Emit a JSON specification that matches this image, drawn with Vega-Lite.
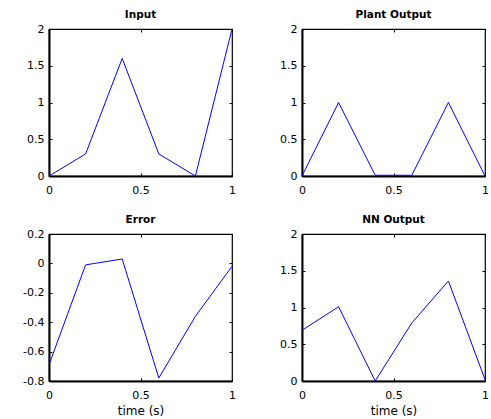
{
  "$schema": "https://vega.github.io/schema/vega-lite/v6.json",
  "autosize": {"type": "pad"},
  "padding": {"left": 21, "top": 8, "right": 5, "bottom": 2},
  "background": "white",
  "datasets": {
    "sim": [
      {"t": 0.0, "input": 0.0, "plant": 0.0, "error": -0.69, "nn": 0.69},
      {"t": 0.2, "input": 0.3, "plant": 1.0, "error": -0.01, "nn": 1.01},
      {"t": 0.4, "input": 1.6, "plant": 0.01, "error": 0.03, "nn": 0.0},
      {"t": 0.6, "input": 0.3, "plant": 0.01, "error": -0.78, "nn": 0.79},
      {"t": 0.8, "input": 0.0, "plant": 1.0, "error": -0.36, "nn": 1.36},
      {"t": 1.0, "input": 2.0, "plant": 0.0, "error": -0.02, "nn": 0.02}
    ]
  },
  "data": {"name": "sim"},
  "columns": 2,
  "spacing": {"column": 70, "row": 58},
  "bounds": "flush",
  "concat": [
    {
      "title": "Input",
      "width": 183, "height": 147,
      "layer": [
        {"mark": {"type": "line", "clip": true},
         "encoding": {
           "x": {"field": "t", "type": "quantitative", "scale": {"domain": [0, 1]}, "axis": {"orient": "bottom", "values": [0, 0.5, 1], "title": null, "labelPadding": 11}},
           "y": {"field": "input", "type": "quantitative", "scale": {"domain": [0, 2]}, "axis": {"orient": "left", "values": [0, 0.5, 1, 1.5, 2], "title": null}}}},
        {"mark": {"type": "line", "strokeOpacity": 0},
         "encoding": {
           "x": {"field": "t", "type": "quantitative", "scale": {"domain": [0, 1]}, "axis": {"orient": "top", "values": [0, 0.5, 1], "title": null, "labels": false, "domain": false}},
           "y": {"field": "input", "type": "quantitative", "scale": {"domain": [0, 2]}, "axis": {"orient": "right", "values": [0, 0.5, 1, 1.5, 2], "title": null, "labels": false, "domain": false}}}}
      ],
      "resolve": {"axis": {"x": "independent", "y": "independent"}}
    },
    {
      "title": "Plant Output",
      "width": 183, "height": 147,
      "layer": [
        {"mark": {"type": "line", "clip": true},
         "encoding": {
           "x": {"field": "t", "type": "quantitative", "scale": {"domain": [0, 1]}, "axis": {"orient": "bottom", "values": [0, 0.5, 1], "title": null, "labelPadding": 11}},
           "y": {"field": "plant", "type": "quantitative", "scale": {"domain": [0, 2]}, "axis": {"orient": "left", "values": [0, 0.5, 1, 1.5, 2], "title": null}}}},
        {"mark": {"type": "line", "strokeOpacity": 0},
         "encoding": {
           "x": {"field": "t", "type": "quantitative", "scale": {"domain": [0, 1]}, "axis": {"orient": "top", "values": [0, 0.5, 1], "title": null, "labels": false, "domain": false}},
           "y": {"field": "plant", "type": "quantitative", "scale": {"domain": [0, 2]}, "axis": {"orient": "right", "values": [0, 0.5, 1, 1.5, 2], "title": null, "labels": false, "domain": false}}}}
      ],
      "resolve": {"axis": {"x": "independent", "y": "independent"}}
    },
    {
      "title": "Error",
      "width": 183, "height": 147,
      "layer": [
        {"mark": {"type": "line", "clip": true},
         "encoding": {
           "x": {"field": "t", "type": "quantitative", "scale": {"domain": [0, 1]}, "axis": {"orient": "bottom", "values": [0, 0.5, 1], "title": "time (s)", "labelPadding": 11}},
           "y": {"field": "error", "type": "quantitative", "scale": {"domain": [-0.8, 0.2]}, "axis": {"orient": "left", "values": [-0.8, -0.6, -0.4, -0.2, 0, 0.2], "title": null}}}},
        {"mark": {"type": "line", "strokeOpacity": 0},
         "encoding": {
           "x": {"field": "t", "type": "quantitative", "scale": {"domain": [0, 1]}, "axis": {"orient": "top", "values": [0, 0.5, 1], "title": null, "labels": false, "domain": false}},
           "y": {"field": "error", "type": "quantitative", "scale": {"domain": [-0.8, 0.2]}, "axis": {"orient": "right", "values": [-0.8, -0.6, -0.4, -0.2, 0, 0.2], "title": null, "labels": false, "domain": false}}}}
      ],
      "resolve": {"axis": {"x": "independent", "y": "independent"}}
    },
    {
      "title": "NN Output",
      "width": 183, "height": 147,
      "layer": [
        {"mark": {"type": "line", "clip": true},
         "encoding": {
           "x": {"field": "t", "type": "quantitative", "scale": {"domain": [0, 1]}, "axis": {"orient": "bottom", "values": [0, 0.5, 1], "title": "time (s)", "labelPadding": 11}},
           "y": {"field": "nn", "type": "quantitative", "scale": {"domain": [0, 2]}, "axis": {"orient": "left", "values": [0, 0.5, 1, 1.5, 2], "title": null}}}},
        {"mark": {"type": "line", "strokeOpacity": 0},
         "encoding": {
           "x": {"field": "t", "type": "quantitative", "scale": {"domain": [0, 1]}, "axis": {"orient": "top", "values": [0, 0.5, 1], "title": null, "labels": false, "domain": false}},
           "y": {"field": "nn", "type": "quantitative", "scale": {"domain": [0, 2]}, "axis": {"orient": "right", "values": [0, 0.5, 1, 1.5, 2], "title": null, "labels": false, "domain": false}}}}
      ],
      "resolve": {"axis": {"x": "independent", "y": "independent"}}
    }
  ],
  "config": {
    "font": "DejaVu Sans",
    "view": {"stroke": "black", "strokeWidth": 1.2},
    "axis": {
      "grid": false,
      "domainColor": "black",
      "domainWidth": 2,
      "tickColor": "black",
      "tickWidth": 1,
      "labelColor": "black",
      "labelFontSize": 11,
      "titleColor": "black",
      "titleFontSize": 12,
      "titleFontWeight": "normal",
      "titlePadding": 5,
      "tickSize": -3,
      "labelPadding": 8,
      "labelFlush": false,
      "labelOverlap": false,
      "labelExpr": "replace(format(datum.value, '~g'), '\u2212', '-')"
    },
    "title": {"fontSize": 10.5, "fontWeight": "bold", "color": "black", "offset": 3},
    "line": {"color": "#0000ff", "strokeWidth": 1}
  }
}
